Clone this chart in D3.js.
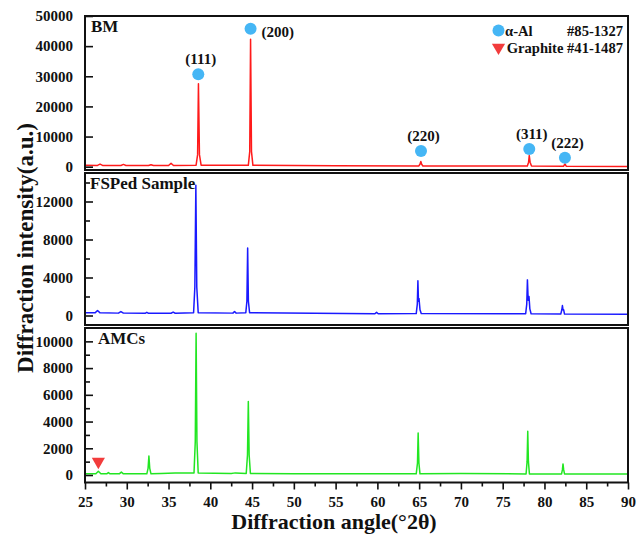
<!DOCTYPE html>
<html>
<head>
<meta charset="utf-8">
<script src="https://cdn.jsdelivr.net/npm/d3@7"></script>
<style>
  body { margin: 0; background: #fff; }
  svg text { font-family: "Liberation Serif", "Times New Roman", serif; font-weight: bold; fill: #111; }
</style>
</head>
<body>
<div id="chart"></div>
<script>
// XRD patterns, [angle (°2θ), intensity]
const bmPoints = [
  [25, 450], [26.5, 420], [26.8, 850], [27.1, 420], [29.3, 400], [29.6, 750], [29.9, 400],
  [32.6, 380], [32.9, 650], [33.2, 380], [35.0, 380], [35.3, 1100], [35.6, 380],
  [38.3, 500], [38.48, 4000], [38.58, 27500], [38.7, 4000], [38.9, 500],
  [44.55, 450], [44.72, 5000], [44.82, 42300], [44.93, 5000], [45.1, 450],
  [55, 300], [64.95, 250], [65.1, 800], [65.2, 1700], [65.3, 800], [65.45, 250],
  [77.95, 200], [78.1, 1500], [78.18, 3700], [78.28, 1500], [78.45, 200],
  [82.3, 150], [82.45, 900], [82.6, 150], [90, 100]
];

const fspPoints = [
  [25, 300], [26.2, 280], [26.5, 520], [26.8, 280], [29.0, 250], [29.3, 420], [29.6, 250],
  [32.2, 230], [32.4, 330], [32.6, 230], [35.3, 240], [35.55, 360], [35.8, 240],
  [38.0, 300], [38.15, 3000], [38.27, 13700], [38.38, 3000], [38.55, 300],
  [42.7, 250], [42.9, 420], [43.1, 250],
  [44.25, 300], [44.38, 1500], [44.47, 7100], [44.56, 1500], [44.7, 300],
  [59.7, 180], [59.9, 330], [60.1, 180],
  [64.65, 200], [64.78, 1200], [64.85, 3650], [64.92, 1500], [64.98, 1800], [65.1, 600], [65.25, 200],
  [77.75, 180], [77.88, 1200], [77.96, 3750], [78.05, 1600], [78.15, 2000], [78.25, 700], [78.4, 180],
  [81.95, 150], [82.08, 600], [82.15, 1050], [82.22, 600], [82.3, 600], [82.4, 150], [90, 130]
];

const amcPoints = [
  [25, 100], [26.3, 100], [26.6, 280], [26.9, 100], [27.6, 90], [27.8, 180], [28.0, 90],
  [29.1, 90], [29.35, 220], [29.6, 90], [32.4, 90], [32.55, 500], [32.65, 1420], [32.75, 500], [32.9, 90],
  [34.1, 120], [35.8, 150], [38.05, 150], [38.2, 2500], [38.3, 10600], [38.4, 2500], [38.55, 150],
  [42.5, 120], [43, 160], [44.3, 120], [44.45, 1500], [44.55, 5500], [44.65, 1500], [44.8, 120],
  [50, 100], [64.65, 90], [64.8, 900], [64.88, 3150], [64.97, 900], [65.1, 90], [70, 120],
  [77.8, 80], [77.92, 1000], [78.0, 3280], [78.08, 1000], [78.2, 80],
  [82.05, 80], [82.15, 400], [82.22, 830], [82.3, 400], [82.4, 80], [90, 80]
];

// α-Al reflections marked on the BM pattern
const alHkl = ["(111)", "(200)", "(220)", "(311)", "(222)"];
const alAngle = [38.56, 44.82, 65.22, 78.18, 82.45];
const alMarkY = [30700, 45800, 5230, 5900, 3000];

// graphite reflection marked on the AMCs pattern
const graphiteAngle = [26.6];
const graphiteMarkY = [1000];

const xTicks = [25, 30, 35, 40, 45, 50, 55, 60, 65, 70, 75, 80, 85, 90];

const width = 638, height = 534;
const left = 85, right = 628;

const panels = [
  { name: "BM", data: bmPoints, color: "#ff1a1a", top: 16, bottom: 170, domain: [-1100, 50000],
    major: [0, 10000, 20000, 30000, 40000, 50000], minor: [], labelX: 91, labelY: 32 },
  { name: "FSPed Sample", data: fspPoints, color: "#1a1aff", top: 173, bottom: 325, domain: [-1000, 15000],
    major: [0, 4000, 8000, 12000], minor: [2000, 6000, 10000, 14000], labelX: 90, labelY: 189 },
  { name: "AMCs", data: amcPoints, color: "#22e622", top: 328, bottom: 482.5, domain: [-560, 11000],
    major: [0, 2000, 4000, 6000, 8000, 10000], minor: [1000, 3000, 5000, 7000, 9000], labelX: 98, labelY: 344 }
];

const svg = d3.select("#chart").append("svg")
  .attr("width", width)
  .attr("height", height);

const x = d3.scaleLinear().domain([25, 90]).range([left, right]);

panels.forEach(p => {
  p.y = d3.scaleLinear().domain(p.domain).range([p.bottom, p.top]);

  const line = d3.line().x(d => x(d[0])).y(d => p.y(d[1]));

  svg.append("path")
    .datum(p.data)
    .attr("fill", "none")
    .attr("stroke", p.color)
    .attr("stroke-width", 1.5)
    .attr("stroke-linejoin", "round")
    .attr("d", line);

  // y axis, ticks pointing inward
  const ax = svg.append("g")
    .attr("transform", `translate(${left},0)`)
    .call(d3.axisLeft(p.y).tickValues(p.major).tickSize(-8).tickPadding(12).tickFormat(d3.format("d")));
  ax.select(".domain").remove();
  ax.selectAll("line").attr("stroke", "#111").attr("stroke-width", 1.6);
  ax.selectAll("text").style("font-size", "15px").attr("fill", "#111");

  if (p.minor.length) {
    const mx = svg.append("g")
      .attr("transform", `translate(${left},0)`)
      .call(d3.axisLeft(p.y).tickValues(p.minor).tickSize(-5).tickFormat(""));
    mx.select(".domain").remove();
    mx.selectAll("line").attr("stroke", "#111").attr("stroke-width", 1.6);
  }

  svg.append("rect")
    .attr("x", left)
    .attr("y", p.top)
    .attr("width", right - left)
    .attr("height", p.bottom - p.top)
    .attr("fill", "none")
    .attr("stroke", "#111")
    .attr("stroke-width", 2);

  svg.append("text")
    .attr("x", p.labelX)
    .attr("y", p.labelY)
    .style("font-size", "17px")
    .text(p.name);
});

// bottom x axis
const p3 = panels[2];
const xAxis = svg.append("g")
  .attr("transform", `translate(0,${p3.bottom})`)
  .call(d3.axisBottom(x).tickValues(xTicks).tickSize(7).tickPadding(7));
xAxis.select(".domain").remove();
xAxis.selectAll("line").attr("stroke", "#111").attr("stroke-width", 1.6);
xAxis.selectAll("text").style("font-size", "15px").attr("fill", "#111");

const xMinor = svg.append("g")
  .attr("transform", `translate(0,${p3.bottom})`)
  .call(d3.axisBottom(x).tickValues(xTicks.slice(0, -1).map(v => v + 2.5)).tickSize(4).tickFormat(""));
xMinor.select(".domain").remove();
xMinor.selectAll("line").attr("stroke", "#111").attr("stroke-width", 1.6);

// α-Al markers on BM
const p1 = panels[0];
svg.selectAll(".al-mark")
  .data(alAngle)
  .enter()
  .append("circle")
  .attr("class", "al-mark")
  .attr("cx", d => x(d))
  .attr("cy", (d, i) => p1.y(alMarkY[i]))
  .attr("r", 6)
  .attr("fill", "#45b6f5");

svg.selectAll(".al-label")
  .data(alHkl)
  .enter()
  .append("text")
  .attr("class", "al-label")
  .attr("x", (d, i) => i === 1 ? x(alAngle[i]) + 11 : x(alAngle[i]) + 2.5)
  .attr("y", (d, i) => i === 1 ? p1.y(alMarkY[i]) + 8 : p1.y(alMarkY[i]) - 10)
  .attr("text-anchor", (d, i) => i === 1 ? "start" : "middle")
  .style("font-size", "15px")
  .text(d => d);

// graphite marker on AMCs
const tri = d3.symbol().type(d3.symbolTriangle).size(75);
svg.selectAll(".gr-mark")
  .data(graphiteAngle)
  .enter()
  .append("path")
  .attr("class", "gr-mark")
  .attr("d", tri)
  .attr("transform", (d, i) => `translate(${x(d)},${p3.y(graphiteMarkY[i])}) rotate(180)`)
  .attr("fill", "#f23c3c");

// legend
const legend = svg.append("g");
legend.append("circle").attr("cx", 498.5).attr("cy", 30.5).attr("r", 6).attr("fill", "#45b6f5");
legend.append("text").attr("x", 505).attr("y", 36).style("font-size", "14.6px").text("α-Al");
legend.append("text").attr("x", 623).attr("y", 36).attr("text-anchor", "end").style("font-size", "14.6px").text("#85-1327");
legend.append("path").attr("d", tri).attr("transform", "translate(498.5,47.5) rotate(180)").attr("fill", "#f23c3c");
legend.append("text").attr("x", 623).attr("y", 53).attr("text-anchor", "end").style("font-size", "14.6px").text("Graphite #41-1487");

// axis titles
svg.append("text")
  .attr("x", 334)
  .attr("y", 529)
  .attr("text-anchor", "middle")
  .style("font-size", "22px")
  .text("Diffraction angle(°2θ)");

svg.append("text")
  .attr("transform", "translate(33,248) rotate(-90)")
  .attr("text-anchor", "middle")
  .style("font-size", "23px")
  .text("Diffraction intensity(a.u.)");
</script>
</body>
</html>
